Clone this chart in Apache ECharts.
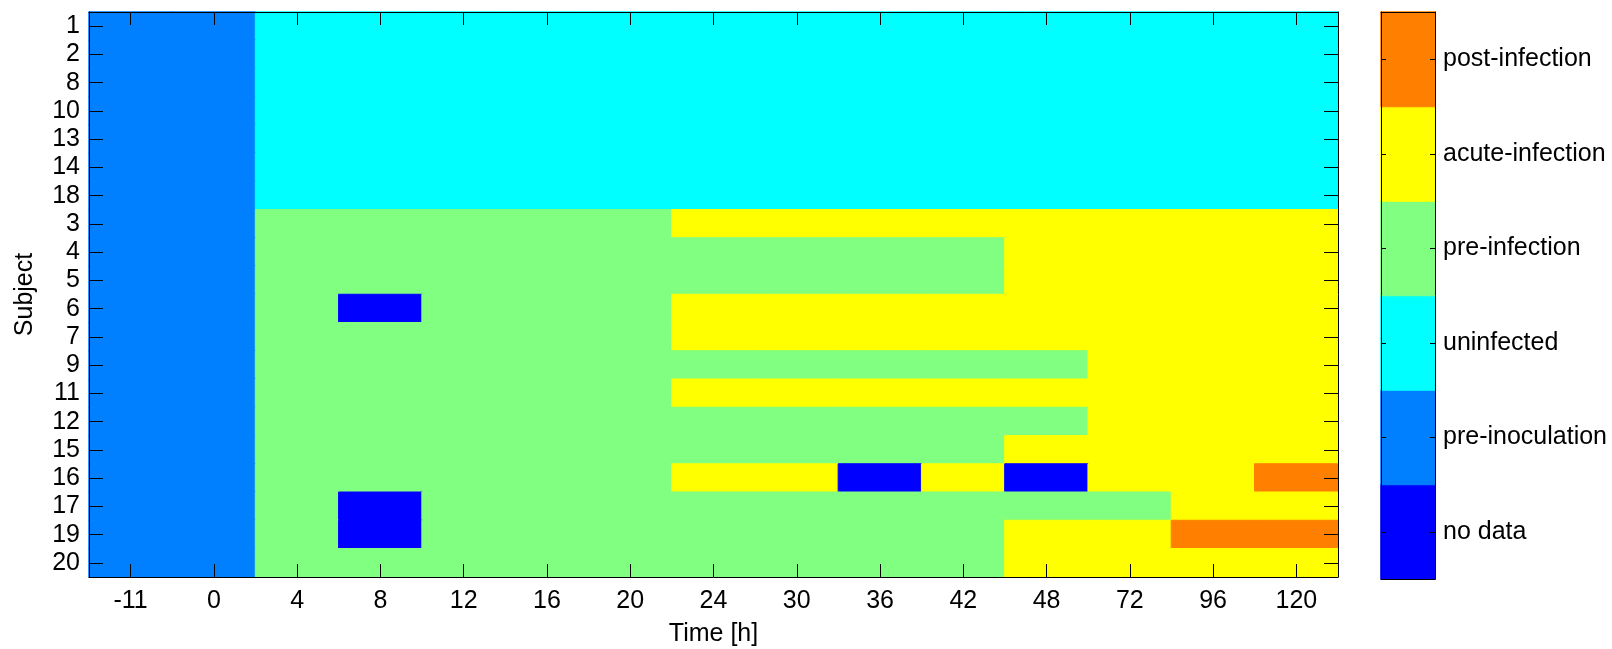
<!DOCTYPE html>
<html>
<head>
<meta charset="utf-8">
<script src="https://cdn.jsdelivr.net/npm/echarts@6/dist/echarts.min.js"></script>
<style>
html,body{margin:0;padding:0;background:#fff;}
#c{width:1612px;height:649px;}
</style>
</head>
<body>
<div id="c"></div>
<script>
const times = ['-11','0','4','8','12','16','20','24','30','36','42','48','72','96','120'];
const subjects = ['1','2','8','10','13','14','18','3','4','5','6','7','9','11','12','15','16','17','19','20'];
const states = ['no data','pre-inoculation','uninfected','pre-infection','acute-infection','post-infection'];
const stateColors = ['#0000FF','#0080FF','#00FFFF','#80FF80','#FFFF00','#FF8000'];
// state code per subject (rows in order of `subjects`), per time point
const stateRows = [
  [1,1,2,2,2,2,2,2,2,2,2,2,2,2,2], // 1
  [1,1,2,2,2,2,2,2,2,2,2,2,2,2,2], // 2
  [1,1,2,2,2,2,2,2,2,2,2,2,2,2,2], // 8
  [1,1,2,2,2,2,2,2,2,2,2,2,2,2,2], // 10
  [1,1,2,2,2,2,2,2,2,2,2,2,2,2,2], // 13
  [1,1,2,2,2,2,2,2,2,2,2,2,2,2,2], // 14
  [1,1,2,2,2,2,2,2,2,2,2,2,2,2,2], // 18
  [1,1,3,3,3,3,3,4,4,4,4,4,4,4,4], // 3
  [1,1,3,3,3,3,3,3,3,3,3,4,4,4,4], // 4
  [1,1,3,3,3,3,3,3,3,3,3,4,4,4,4], // 5
  [1,1,3,0,3,3,3,4,4,4,4,4,4,4,4], // 6
  [1,1,3,3,3,3,3,4,4,4,4,4,4,4,4], // 7
  [1,1,3,3,3,3,3,3,3,3,3,3,4,4,4], // 9
  [1,1,3,3,3,3,3,4,4,4,4,4,4,4,4], // 11
  [1,1,3,3,3,3,3,3,3,3,3,3,4,4,4], // 12
  [1,1,3,3,3,3,3,3,3,3,3,4,4,4,4], // 15
  [1,1,3,3,3,3,3,4,4,0,4,0,4,4,5], // 16
  [1,1,3,0,3,3,3,3,3,3,3,3,3,4,4], // 17
  [1,1,3,0,3,3,3,3,3,3,3,4,4,5,5], // 19
  [1,1,3,3,3,3,3,3,3,3,3,4,4,4,4]  // 20
];

const cell = (x, y, v) => ({
  value: [x, y, v],
  itemStyle: {color: stateColors[v], borderColor: stateColors[v], borderWidth: 1}
});
const cellData = [];
stateRows.forEach((row, yi) => row.forEach((v, xi) => cellData.push(cell(xi, yi, v))));
const barData = states.map((s, i) => cell(0, i, i));

const FONT = 'Arial, "Liberation Sans", sans-serif';
const lineBlack = {show: true, lineStyle: {color: '#000', width: 1}};
const tickIn = (len) => ({show: true, inside: true, length: len, alignWithLabel: true, interval: 0, lineStyle: {color: '#000', width: 1}});

const chart = echarts.init(document.getElementById('c'), null, {renderer: 'canvas'});
chart.setOption({
  animation: false,
  backgroundColor: '#fff',
  textStyle: {fontFamily: FONT},
  grid: [
    {left: 89, right: 274, top: 12, bottom: 72, containLabel: false, outerBoundsMode: 'none'},
    {left: 1381, width: 54, top: 12, bottom: 70, containLabel: false, outerBoundsMode: 'none'}
  ],
  xAxis: [
    {type: 'category', data: times, gridIndex: 0, position: 'bottom', z: 10,
     axisLine: lineBlack, axisTick: tickIn(13),
     axisLabel: {color: '#000', fontSize: 25, margin: 12, interval: 0, fontFamily: FONT},
     name: 'Time [h]', nameLocation: 'middle', nameGap: 45,
     nameTextStyle: {color: '#000', fontSize: 25, fontFamily: FONT},
     splitLine: {show: false}},
    {type: 'category', data: times, gridIndex: 0, position: 'top', z: 10,
     axisLine: lineBlack, axisTick: tickIn(13), axisLabel: {show: false}, splitLine: {show: false}},
    {type: 'category', data: [''], gridIndex: 1, position: 'bottom', z: 10,
     axisLine: lineBlack, axisTick: {show: false}, axisLabel: {show: false}},
    {type: 'category', data: [''], gridIndex: 1, position: 'top', z: 10,
     axisLine: lineBlack, axisTick: {show: false}, axisLabel: {show: false}}
  ],
  yAxis: [
    {type: 'category', data: subjects, inverse: true, gridIndex: 0, position: 'left', z: 10,
     axisLine: lineBlack, axisTick: tickIn(14),
     axisLabel: {color: '#000', fontSize: 25, margin: 9, interval: 0, fontFamily: FONT},
     name: 'Subject', nameLocation: 'middle', nameGap: 51, nameRotate: 90,
     nameTextStyle: {color: '#000', fontSize: 25, fontFamily: FONT},
     splitLine: {show: false}},
    {type: 'category', data: subjects, inverse: true, gridIndex: 0, position: 'right', z: 10,
     axisLine: lineBlack, axisTick: tickIn(14), axisLabel: {show: false}, splitLine: {show: false}},
    {type: 'category', data: states, gridIndex: 1, position: 'right', z: 10,
     axisLine: lineBlack, axisTick: tickIn(5),
     axisLabel: {color: '#000', fontSize: 25, margin: 8, interval: 0, fontFamily: FONT}},
    {type: 'category', data: states, gridIndex: 1, position: 'left', z: 10,
     axisLine: lineBlack, axisTick: tickIn(5), axisLabel: {show: false}}
  ],
  series: [
    {type: 'heatmap', xAxisIndex: 0, yAxisIndex: 0, data: cellData, z: 2,
     emphasis: {disabled: true}, progressive: 0},
    {type: 'heatmap', xAxisIndex: 2, yAxisIndex: 2, data: barData, z: 2,
     emphasis: {disabled: true}}
  ]
});
</script>
</body>
</html>
